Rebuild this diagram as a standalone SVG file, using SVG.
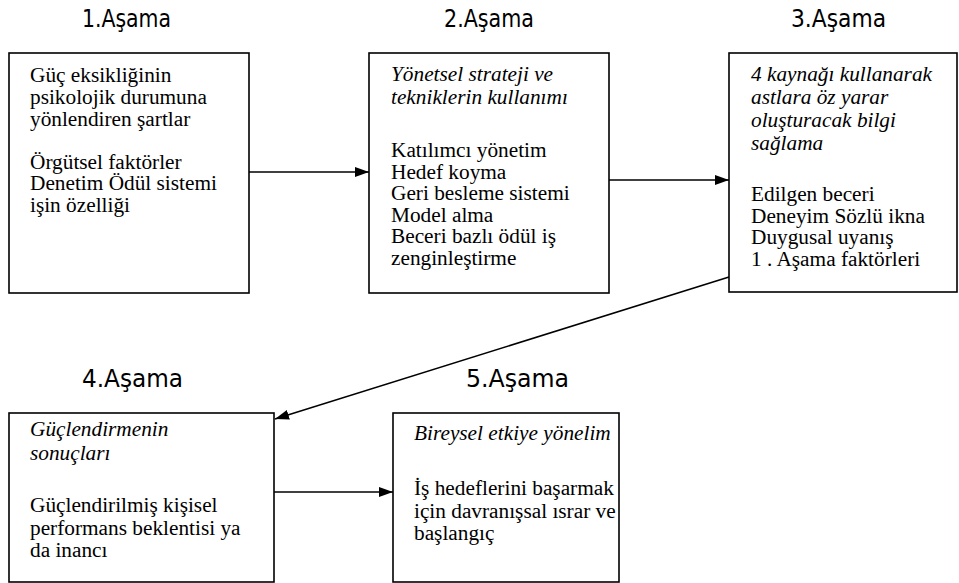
<svg xmlns="http://www.w3.org/2000/svg" width="959" height="583" viewBox="0 0 959 583">
<style>
.box{fill:#fff;stroke:#000;stroke-width:1.6}
.t{font-family:"Liberation Serif","Times New Roman",serif;font-size:21.3px;fill:#000}
.i{font-style:italic}
.h{font-family:"DejaVu Sans Condensed","DejaVu Sans",sans-serif;font-size:25px;fill:#000}
.c{stroke:#000;stroke-width:1.6;fill:none}
</style>
<defs>
<marker id="ah" viewBox="0 0 14 10" refX="14" refY="5" markerWidth="14" markerHeight="10" markerUnits="userSpaceOnUse" orient="auto">
<path d="M0,0 L14,5 L0,10 Z" fill="#000"/>
</marker>
</defs>
<g id="headings">
<text class="h" x="82" y="27" textLength="89" lengthAdjust="spacingAndGlyphs">1.Aşama</text>
<text class="h" x="444" y="27" textLength="90" lengthAdjust="spacingAndGlyphs">2.Aşama</text>
<text class="h" x="791" y="27" textLength="95" lengthAdjust="spacingAndGlyphs">3.Aşama</text>
<text class="h" x="82" y="387" textLength="101" lengthAdjust="spacingAndGlyphs">4.Aşama</text>
<text class="h" x="466" y="387" textLength="103" lengthAdjust="spacingAndGlyphs">5.Aşama</text>
</g>
<g id="connectors">
<line class="c" x1="249" y1="172" x2="369" y2="172" marker-end="url(#ah)"/>
<line class="c" x1="609" y1="180" x2="729" y2="180" marker-end="url(#ah)"/>
<line class="c" x1="729" y1="277" x2="275" y2="419" marker-end="url(#ah)"/>
<line class="c" x1="274" y1="492" x2="393" y2="492" marker-end="url(#ah)"/>
</g>
<g id="node1">
<rect class="box" x="9" y="53" width="240" height="240"/>
<text class="t" x="30" y="82">Güç eksikliğinin</text>
<text class="t" x="30" y="104">psikolojik durumuna</text>
<text class="t" x="30" y="126">yönlendiren şartlar</text>
<text class="t" x="30" y="169">Örgütsel faktörler</text>
<text class="t" x="30" y="190">Denetim Ödül sistemi</text>
<text class="t" x="30" y="212">işin özelliği</text>
</g>
<g id="node2">
<rect class="box" x="369" y="53" width="240" height="240"/>
<text class="t i" x="391" y="81">Yönetsel strateji ve</text>
<text class="t i" x="391" y="104">tekniklerin kullanımı</text>
<text class="t" x="391" y="157">Katılımcı yönetim</text>
<text class="t" x="391" y="179">Hedef koyma</text>
<text class="t" x="391" y="200">Geri besleme sistemi</text>
<text class="t" x="391" y="222">Model alma</text>
<text class="t" x="391" y="243">Beceri bazlı ödül iş</text>
<text class="t" x="391" y="265">zenginleştirme</text>
</g>
<g id="node3">
<rect class="box" x="729" y="53" width="228" height="239"/>
<text class="t i" x="751" y="81">4 kaynağı kullanarak</text>
<text class="t i" x="751" y="104">astlara öz yarar</text>
<text class="t i" x="751" y="127">oluşturacak bilgi</text>
<text class="t i" x="751" y="150">sağlama</text>
<text class="t" x="751" y="201">Edilgen beceri</text>
<text class="t" x="751" y="223">Deneyim Sözlü ikna</text>
<text class="t" x="751" y="244">Duygusal uyanış</text>
<text class="t" x="751" y="266">1 . Aşama faktörleri</text>
</g>
<g id="node4">
<rect class="box" x="9" y="413" width="265" height="169"/>
<text class="t i" x="30" y="436">Güçlendirmenin</text>
<text class="t i" x="30" y="460">sonuçları</text>
<text class="t" x="30" y="512">Güçlendirilmiş kişisel</text>
<text class="t" x="30" y="535">performans beklentisi ya</text>
<text class="t" x="30" y="557">da inancı</text>
</g>
<g id="node5">
<rect class="box" x="393" y="413" width="226" height="169"/>
<text class="t i" x="414" y="440">Bireysel etkiye yönelim</text>
<text class="t" x="414" y="495">İş hedeflerini başarmak</text>
<text class="t" x="414" y="518">için davranışsal ısrar ve</text>
<text class="t" x="414" y="540">başlangıç</text>
</g>
</svg>
